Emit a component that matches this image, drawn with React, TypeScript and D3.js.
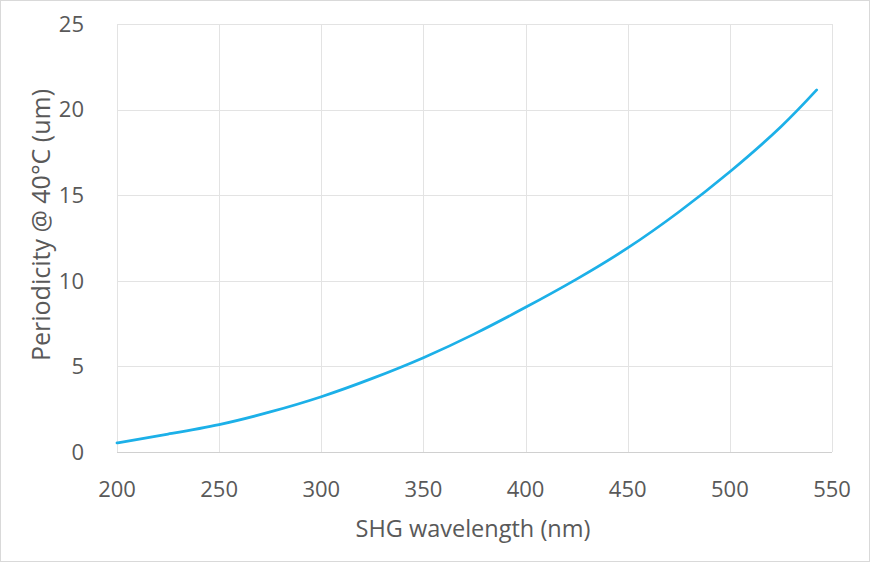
import React, { useEffect, useRef } from 'react';
import * as d3 from 'd3';

// SHG wavelength (nm) vs periodicity at 40°C (um)
const wavelengths = [200, 225, 250, 275, 300, 325, 350, 375, 400, 425, 450, 475, 500, 525, 542.5];
const periods = [0.53, 1.05, 1.6, 2.34, 3.23, 4.3, 5.51, 6.9, 8.45, 10.1, 11.92, 14.02, 16.37, 19.0, 21.15];
const xTicks = [200, 250, 300, 350, 400, 450, 500, 550];
const yTicks = [0, 5, 10, 15, 20, 25];

const App: React.FC = () => {
  const svgRef = useRef<SVGSVGElement>(null);

  useEffect(() => {
    if (!svgRef.current) return;
    const svg = d3.select(svgRef.current);
    svg.selectAll("*").remove();

    const width = 870;
    const height = 562;
    const plot = { left: 117, right: 832, top: 24, bottom: 452 };
    const font = "'Open Sans', 'Liberation Sans', sans-serif";

    // chart frame
    svg.append("rect")
      .attr("x", 0.5).attr("y", 0.5)
      .attr("width", width - 1).attr("height", height - 1)
      .attr("fill", "#fff")
      .attr("stroke", "#d9d9d9");

    const x = d3.scaleLinear().domain([200, 550]).range([plot.left, plot.right]);
    const y = d3.scaleLinear().domain([0, 25]).range([plot.bottom, plot.top]);

    // vertical grid
    svg.append("g")
      .selectAll("line")
      .data(xTicks)
      .enter()
      .append("line")
      .attr("x1", d => Math.round(x(d)) + 0.5)
      .attr("x2", d => Math.round(x(d)) + 0.5)
      .attr("y1", plot.top)
      .attr("y2", plot.bottom)
      .attr("stroke", "#e3e3e3")
      .attr("stroke-width", 1);

    // horizontal grid
    svg.append("g")
      .selectAll("line")
      .data(yTicks)
      .enter()
      .append("line")
      .attr("x1", plot.left)
      .attr("x2", plot.right)
      .attr("y1", d => Math.round(y(d)) + 0.5)
      .attr("y2", d => Math.round(y(d)) + 0.5)
      .attr("stroke", d => d === 0 ? "#d0d0d0" : "#e3e3e3")
      .attr("stroke-width", 1);

    // y tick labels
    svg.append("g")
      .selectAll("text")
      .data(yTicks)
      .enter()
      .append("text")
      .attr("x", 84)
      .attr("y", d => y(d) + 7.8)
      .attr("text-anchor", "end")
      .attr("fill", "#595959")
      .attr("font-family", font)
      .attr("font-size", "22px")
      .text(d => d);

    // x tick labels
    svg.append("g")
      .selectAll("text")
      .data(xTicks)
      .enter()
      .append("text")
      .attr("x", d => x(d))
      .attr("y", 497)
      .attr("text-anchor", "middle")
      .attr("fill", "#595959")
      .attr("font-family", font)
      .attr("font-size", "22px")
      .text(d => d);

    // axis titles
    svg.append("text")
      .attr("x", 473)
      .attr("y", 537)
      .attr("text-anchor", "middle")
      .attr("fill", "#595959")
      .attr("font-family", font)
      .attr("font-size", "23.5px")
      .text("SHG wavelength (nm)");

    svg.append("text")
      .attr("transform", `translate(50,225) rotate(-90)`)
      .attr("text-anchor", "middle")
      .attr("fill", "#595959")
      .attr("font-family", font)
      .attr("font-size", "25px")
      .text("Periodicity @ 40°C (um)");

    // curve
    const line = d3.line<number>()
      .x((_, i) => x(wavelengths[i]))
      .y(d => y(d))
      .curve(d3.curveNatural);

    svg.append("path")
      .datum(periods)
      .attr("d", line)
      .attr("fill", "none")
      .attr("stroke", "#1cb0e8")
      .attr("stroke-width", 2.75)
      .attr("stroke-linecap", "round");
  }, []);

  return (
    <svg
      ref={svgRef}
      width={870}
      height={562}
      style={{ position: 'absolute', left: 0, top: 0, display: 'block' }}
    />
  );
};

export default App;
